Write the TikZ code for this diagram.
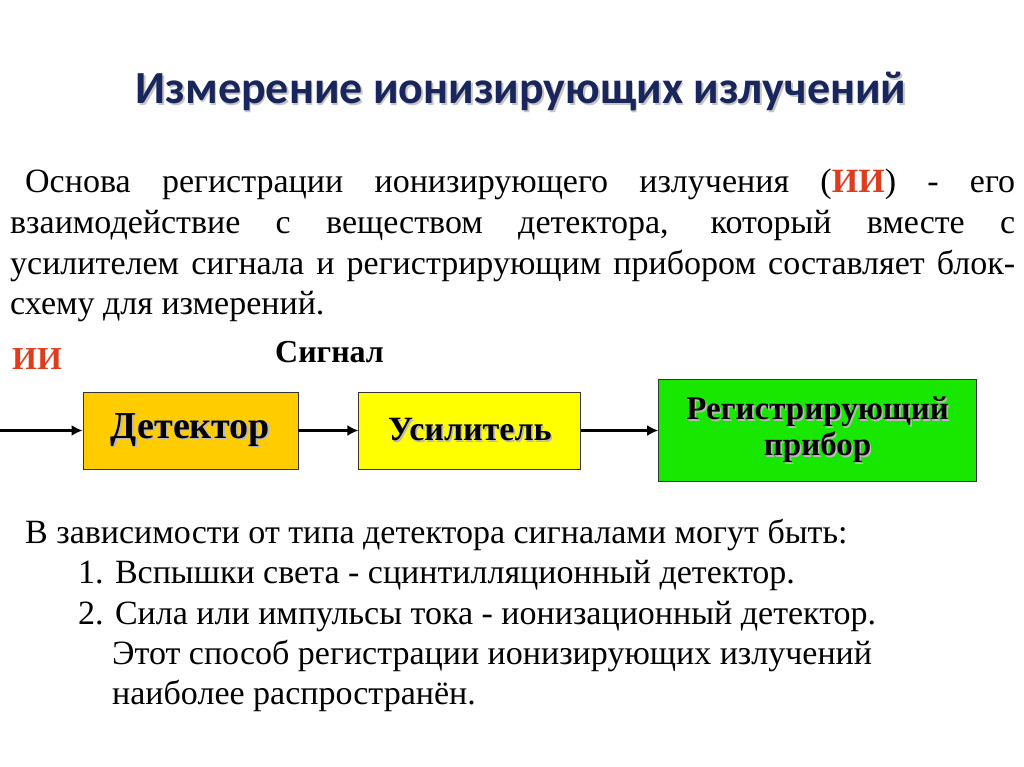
\documentclass[tikz,border=0pt]{standalone}
\usepackage{fontspec}
\setmainfont{Liberation Serif}
\newfontfamily\titlefont{Carlito}
\usetikzlibrary{positioning,arrows.meta}

\definecolor{titleblue}{RGB}{24,38,92}
\definecolor{iired}{RGB}{222,60,28}
\definecolor{detorange}{RGB}{255,204,0}
\definecolor{ampyellow}{RGB}{255,255,0}
\definecolor{reggreen}{RGB}{24,232,0}

% text with a soft grey shadow behind it
\newcommand{\shtext}[2][gray!55]{%
  \makebox[0pt][l]{\hspace{1.6pt}\raisebox{-1.6pt}{\textcolor{#1}{#2}}}#2}

\begin{document}
\begin{tikzpicture}
[
x=1pt, y=-1pt,
node distance = 10pt,
box-a/.style={draw=black!80, line width=0.8pt, inner sep=0pt, align=center, font=\bfseries},
text-a/.style={black, inner sep=0pt, anchor=base west, font=\fontsize{34}{40.5}\selectfont},
text-b/.style={inner sep=0pt, anchor=base west, font=\fontsize{32}{38}\selectfont\bfseries},
link-a/.style={-{Latex[length=11pt,width=11pt]}, line width=3.2pt, black}
]
\useasboundingbox (0,0) rectangle (1024,767);

% title
\node (title) [inner sep=0pt, anchor=base, text=titleblue,
  font=\titlefont\fontsize{46}{50}\selectfont\bfseries] at (521,104)
  {\shtext[gray!45]{Измерение ионизирующих излучений}};

% first paragraph
\node (par-1) [text-a] at (25,193)
  {\makebox[990pt][s]{Основа регистрации ионизирующего излучения (\textcolor{iired}{\textbf{ИИ}}) - его}};
\node (par-2) [text-a] at (10,233.5)
  {\makebox[1005pt][s]{взаимодействие с веществом детектора, который вместе с}};
\node (par-3) [text-a] at (10,274)
  {\makebox[1005pt][s]{усилителем сигнала и регистрирующим прибором составляет блок-}};
\node (par-4) [text-a] at (10,314.5) {схему для измерений.};

% block scheme
\node (ii)     [text-b, text=iired] at (12,369) {ИИ};
\node (signal) [text-b] at (275,362) {Сигнал};

\node (det) [box-a, fill=detorange, minimum width=215pt, minimum height=77pt,
  font=\fontsize{38}{40}\selectfont\bfseries] at (190.5,430.5) {\shtext{Детектор}};
\node (amp) [box-a, fill=ampyellow, minimum width=222pt, minimum height=77pt,
  font=\fontsize{34}{38}\selectfont\bfseries, right = 60pt of det] {\shtext{Усилитель}};
\node (reg) [box-a, fill=reggreen, minimum width=318pt, minimum height=102pt,
  font=\fontsize{33}{36}\selectfont\bfseries, right = 77pt of amp]
  {\shtext{Регистрирующий}\\\shtext{прибор}};

\coordinate (src) at (0,430.5);
\draw [link-a] (src) -- (det);
\draw [link-a] (det) -- (amp);
\draw [link-a] (amp) -- (reg);

% second paragraph
\node (kind)   [text-a] at (25,543)  {В зависимости от типа детектора сигналами могут быть:};
\node (kind-1) [text-a] at (78,583)  {1. Вспышки света - сцинтилляционный детектор.};
\node (kind-2) [text-a] at (78,624)  {2. Сила или импульсы тока - ионизационный детектор.};
\node (kind-3) [text-a] at (112,664) {Этот способ регистрации ионизирующих излучений};
\node (kind-4) [text-a] at (112,704) {наиболее распространён.};
\end{tikzpicture}
\end{document}
